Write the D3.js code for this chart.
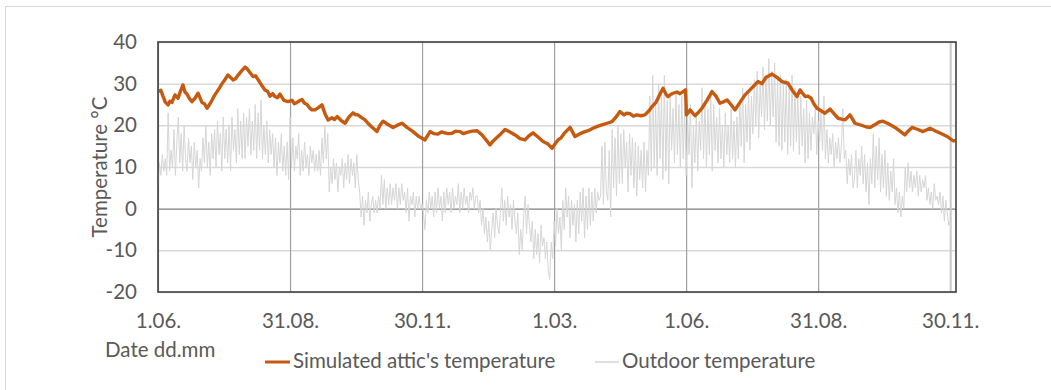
<!DOCTYPE html>
<html>
<head>
<meta charset="utf-8">
<script src="https://cdn.jsdelivr.net/npm/d3@7"></script>
<style>
  html, body { margin: 0; padding: 0; background: #fff; }
  svg { display: block; }
  text { font-family: Lato, "Open Sans", sans-serif; fill: #595959; }
</style>
</head>
<body>
<svg id="chart" width="1051" height="390"></svg>
<script>
// ---------- DATA ----------
const xTickDays = [0, 91, 182, 273, 364, 455, 546];
const xTickLabels = ["1.06.", "31.08.", "30.11.", "1.03.", "1.06.", "31.08.", "30.11."];
const yTicks = [-20, -10, 0, 10, 20, 30, 40];
const seriesNames = ["Simulated attic's temperature", "Outdoor temperature"];

// Simulated attic's temperature: [day since 1.06., °C]
const atticSeries = [[0.5,28.1],[2,28.4],[3.4,27.0],[5,25.6],[6.9,24.9],[8.2,25.8],[9.6,25.5],[11.7,27.3],[13.8,26.5],[15.5,28.2],[17.2,29.7],[18.6,28.0],[20,27.5],[21.7,26.4],[23.4,25.7],[25.5,26.5],[27.6,27.7],[29,26.6],[30.3,25.5],[32,25.2],[33.8,24.1],[35.5,25.0],[37.2,26.0],[39,27.2],[40.7,28.1],[42.4,29.0],[44.1,30.0],[46.2,31.0],[48.2,32.1],[50,31.5],[51.7,30.9],[53.4,31.2],[55.1,32.0],[57.5,33.0],[60,34.0],[61.4,33.6],[62.7,33.0],[65.5,31.7],[67.2,31.9],[68.9,31.0],[71.7,29.5],[73.7,28.5],[75.5,28.2],[77.2,27.0],[79,27.6],[80.6,26.9],[82.3,26.6],[84.1,27.5],[86.8,26.0],[89.6,25.7],[92.4,26.0],[94,25.2],[95.8,25.5],[97.5,25.9],[99.3,26.2],[101,25.3],[102.7,25.0],[104.4,24.2],[106.1,23.7],[108.2,23.7],[110.3,24.2],[113,24.9],[115.1,22.8],[117.2,21.3],[119.9,21.8],[121.6,21.4],[123.4,22.1],[126.1,21.2],[128.9,20.5],[131.6,22.0],[134.4,23.0],[136,22.6],[137.8,22.5],[140.6,21.8],[142.7,21.3],[144.7,20.5],[146.8,19.8],[150.9,18.5],[153,20.0],[155.1,21.0],[158.5,20.2],[162,19.5],[165.4,20.1],[168.2,20.5],[171.6,19.5],[175.8,18.5],[179.9,17.3],[184,16.5],[187.5,18.5],[190.2,18.0],[193,17.9],[195.4,18.4],[197.8,18.2],[200,18.0],[202.6,18.1],[205,18.6],[208.1,18.5],[210.5,18.0],[213,18.3],[216.4,18.6],[219.9,18.7],[223.3,17.7],[226.1,16.5],[228.8,15.3],[230.9,16.2],[233.6,17.1],[236.4,18.0],[239.2,19.0],[242.6,18.4],[246.1,17.7],[249.5,16.8],[252.9,16.5],[255.7,17.5],[258.5,18.2],[261.9,17.2],[265.4,16.1],[268.8,15.5],[271.6,14.5],[273.6,15.5],[275.7,16.5],[277.8,17.0],[279.8,18.0],[282,18.8],[284,19.5],[287.4,17.3],[290.9,18.0],[294.3,18.5],[297.1,18.8],[299.8,19.3],[303.3,19.8],[306,20.1],[309.5,20.5],[312.9,20.9],[315.7,22.0],[318.4,23.3],[321.2,22.5],[323,22.9],[325.3,22.8],[327.6,22.2],[330.1,22.5],[332.9,22.3],[335.6,22.5],[338.4,23.5],[340.5,24.5],[343.2,25.5],[346,27.5],[348.1,28.9],[350.1,27.5],[351.5,26.9],[353.3,27.4],[355,27.7],[357.7,28.0],[359.8,27.6],[362.5,28.2],[363.6,28.5],[364.2,22.5],[366.7,23.7],[370.1,22.3],[372.2,23.0],[374.9,24.1],[378.4,26.0],[381.8,28.1],[384.6,27.0],[387.3,25.3],[390.1,25.7],[392.2,26.1],[394.9,25.0],[397.7,23.7],[401.1,25.5],[404.6,27.3],[408,28.5],[410.8,29.5],[413.5,30.5],[416.3,30.0],[419,31.5],[423.2,32.3],[426.6,31.5],[430.1,30.5],[434.2,30.1],[437,28.5],[440.4,26.9],[442.5,28.5],[446,26.9],[448,27.0],[450.1,26.5],[452,25.2],[454.2,24.1],[457,23.5],[459.7,22.9],[463.2,23.9],[465.9,22.8],[468.7,21.7],[471,21.5],[473.5,21.3],[476.9,22.5],[480.4,20.5],[483.1,20.2],[485.9,19.9],[488.3,19.6],[490.7,19.5],[494.8,20.3],[497,20.8],[499.7,21.0],[503.8,20.3],[508,19.5],[511.4,18.6],[514.8,17.7],[517,18.6],[519.7,19.5],[523.8,19.0],[527.3,18.5],[532.1,19.3],[536.2,18.6],[540.4,17.9],[544.5,17.2],[547.9,16.3],[549.5,16.3]];

// Outdoor temperature, one reading per day starting 1.06. (°C)
const outdoorStep = 1;
const outdoorTemps = [
  5,11,8,13,9,12,8,23,9,14,
  10,19,8,16,22,11,18,9,20,12,
  9,17,11,15,7,16,10,14,5,12,
  9,17,11,20,10,16,8,18,12,19,
  10,21,13,18,9,22,12,19,11,20,
  9,22,14,19,11,24,13,21,12,23,
  12,22,15,24,13,21,14,25,12,23,
  14,26,12,20,13,21,11,19,13,18,
  10,17,8,16,11,18,9,15,8,16,
  7,22,10,17,9,15,12,18,8,14,
  9,16,10,13,8,15,11,14,9,13,
  9,14,8,17,11,20,12,18,4,10,
  6,12,7,11,4,10,8,12,5,11,
  7,13,6,12,8,11,5,13,7,4,
  -2,3,-4,2,-1,4,-3,1,3,-1,
  2,-1,3,0,8,1,7,0,5,1,
  6,1,5,2,6,0,5,1,6,2,
  4,-1,5,-3,3,1,4,-2,3,0,
  3,0,1,-1,-5,2,-1,4,0,3,
  -2,4,-1,5,0,3,-3,4,-1,5,
  1,4,-1,5,0,3,1,6,-1,4,
  0,5,1,3,-1,4,2,5,0,3,
  3,-1,2,-4,0,-6,-2,-8,-3,-10,
  -5,-1,-7,0,-4,-6,-1,5,-3,2,
  -4,3,-2,1,-5,2,-3,-6,-1,-11,
  -5,-10,-2,3,-6,1,-4,-8,-3,-12,
  -5,-11,-6,-13,-4,-9,-7,-12,-8,-15,
  -17,-8,-12,-3,-9,0,-6,-2,-10,2,
  -5,5,-2,3,-7,2,-4,1,-8,2,
  -6,4,-3,5,-7,3,-5,5,-4,4,
  -3,5,-1,4,2,3,15,1,16,4,
  2,14,-2,19,5,17,3,20,6,18,
  6,19,10,16,4,18,8,17,5,16,
  3,15,7,14,5,16,4,14,8,27,
  9,32,10,25,8,30,12,28,7,32,
  9,26,6,27,14,24,11,28,13,25,
  10,27,12,24,8,22,13,25,5,20,
  11,23,9,21,14,29,12,26,10,24,
  13,27,9,25,14,22,11,24,12,20,
  10,23,13,20,11,24,12,21,10,22,
  12,26,15,29,11,25,16,28,14,27,
  18,31,20,33,17,30,22,34,19,32,
  21,36,20,33,22,35,16,31,15,32,
  14,30,16,31,13,29,15,32,14,29,
  16,28,13,27,15,24,11,26,12,23,
  14,22,18,24,13,21,16,23,14,27,
  12,19,11,17,13,18,10,16,12,17,
  11,15,24,12,14,6,12,8,13,5,
  7,14,5,12,8,15,6,13,4,11,
  1,12,6,18,5,15,7,17,4,13,
  5,14,3,11,2,9,4,12,1,5,
  -1,4,-2,3,0,10,4,11,5,9,
  4,8,5,9,3,8,4,7,5,8,
  2,5,1,4,0,6,2,3,1,4,
  -1,3,-3,2,-1,-4,-3,-8
];

// ---------- CHART ----------
const svg = d3.select("#chart");
const W = 1051, H = 390;
const plot = { left: 158, right: 956, top: 42, bottom: 292 };
const FONT = "20.5px";

// outer chart border
svg.append("rect")
  .attr("x", 5.5).attr("y", 6.5)
  .attr("width", W + 20).attr("height", H + 20)
  .attr("fill", "#fff").attr("stroke", "#d9d9d9").attr("stroke-width", 1);

const x = d3.scaleLinear().domain([0, 550]).range([plot.left, plot.right]);
const y = d3.scaleLinear().domain([-20, 40]).range([plot.bottom, plot.top]);

// horizontal gridlines
const yGrid = d3.axisLeft(y).tickValues(yTicks).tickSize(-(plot.right - plot.left)).tickFormat("");
const gy = svg.append("g").attr("transform", `translate(${plot.left},0)`).call(yGrid);
gy.select(".domain").remove();
gy.selectAll(".tick line")
  .attr("stroke", d => d === 0 ? "#7f7f7f" : "#d9d9d9")
  .attr("stroke-width", d => d === 0 ? 1.2 : 1.5);

// vertical gridlines
const xGrid = d3.axisBottom(x).tickValues(xTickDays).tickSize(-(plot.bottom - plot.top)).tickFormat("");
const gx = svg.append("g").attr("transform", `translate(0,${plot.bottom})`).call(xGrid);
gx.select(".domain").remove();
gx.selectAll(".tick line")
  .attr("stroke", (d, i) => i === xTickDays.length - 1 ? "#c8c8c8" : "#a0a0a0")
  .attr("stroke-width", (d, i) => i === xTickDays.length - 1 ? 2 : 1.2);

// outdoor series
const outdoorLine = d3.line()
  .x((d, i) => x(i * outdoorStep))
  .y(d => y(d));
svg.append("path")
  .datum(outdoorTemps)
  .attr("fill", "none")
  .attr("stroke", "#d6d6d6")
  .attr("stroke-width", 1)
  .attr("stroke-linejoin", "round")
  .attr("d", outdoorLine);

// attic series
const atticLine = d3.line()
  .x(d => x(d[0]))
  .y(d => y(d[1]));
svg.append("path")
  .datum(atticSeries)
  .attr("fill", "none")
  .attr("stroke", "#c55a11")
  .attr("stroke-width", 3.4)
  .attr("stroke-linejoin", "round")
  .attr("d", atticLine);

// plot border
svg.append("rect")
  .attr("x", plot.left).attr("y", plot.top)
  .attr("width", plot.right - plot.left).attr("height", plot.bottom - plot.top)
  .attr("fill", "none").attr("stroke", "#404040").attr("stroke-width", 1.6);

// y tick labels (plain hyphen for negatives, as in the original)
const yAxis = d3.axisLeft(y).tickValues(yTicks).tickFormat(d => String(d)).tickSize(0).tickPadding(21);
const ya = svg.append("g").attr("transform", `translate(${plot.left},0)`).call(yAxis);
ya.select(".domain").remove();
ya.selectAll("text")
  .style("font-family", "Lato, 'Open Sans', sans-serif")
  .style("font-size", FONT).attr("fill", "#595959");

// x tick labels
const xAxis = d3.axisBottom(x).tickValues(xTickDays)
  .tickFormat((d, i) => xTickLabels[i]).tickSize(0).tickPadding(21);
const xa = svg.append("g").attr("transform", `translate(0,${plot.bottom})`).call(xAxis);
xa.select(".domain").remove();
xa.selectAll("text")
  .style("font-family", "Lato, 'Open Sans', sans-serif")
  .style("font-size", FONT).attr("fill", "#595959");

// axis titles
svg.append("text")
  .attr("transform", `translate(107,${(plot.top + plot.bottom) / 2}) rotate(-90)`)
  .attr("text-anchor", "middle")
  .style("font-size", FONT)
  .text("Temperature °C");

svg.append("text")
  .attr("x", 105).attr("y", 357)
  .style("font-size", FONT)
  .text("Date dd.mm");

// legend
const legend = svg.append("g");
legend.append("line").attr("x1", 265).attr("x2", 290).attr("y1", 362).attr("y2", 362)
  .attr("stroke", "#c55a11").attr("stroke-width", 3);
legend.append("text").attr("x", 293).attr("y", 368).style("font-size", FONT).text(seriesNames[0]);
legend.append("line").attr("x1", 595).attr("x2", 619).attr("y1", 362).attr("y2", 362)
  .attr("stroke", "#d4d4d4").attr("stroke-width", 1.5);
legend.append("text").attr("x", 622).attr("y", 368).style("font-size", FONT).text(seriesNames[1]);
</script>
</body>
</html>
